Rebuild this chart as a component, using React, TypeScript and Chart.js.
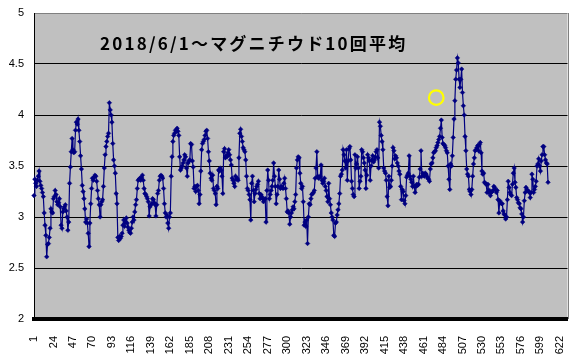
import React, { useEffect, useRef } from 'react';
import { Chart, registerables } from 'chart.js';

Chart.register(...registerables);

// ---- data ----
const TITLE = '2018/6/1～マグニチウド10回平均';

const CATEGORY_COUNT = 631;
const CATEGORIES: string[] = Array.from({ length: CATEGORY_COUNT }, (_, i) => String(i + 1));

const TICK_LABELS: string[] = [
  '1', '24', '47', '70', '93', '116', '139', '162', '185', '208', '231', '254', '277', '300',
  '323', '346', '369', '392', '415', '438', '461', '484', '507', '530', '553', '576', '599', '622',
];

const Y_TICKS: number[] = [2, 2.5, 3, 3.5, 4, 4.5, 5];

const MAGNITUDE_AVG: number[] = [
  3.21, 3.37, 3.33, 3.30, 3.36, 3.40, 3.45, 3.35, 3.31, 3.28,
  3.24, 3.20, 3.04, 2.92, 2.82, 2.61, 2.73, 2.74, 2.80, 2.89,
  3.08, 3.05, 3.04, 3.18, 3.20, 3.26, 3.22, 3.15, 3.12, 3.14,
  3.18, 3.10, 2.92, 2.89, 3.05, 3.08, 3.10, 3.12, 3.06, 3.00,
  2.87, 2.95, 3.33, 3.49, 3.64, 3.77, 3.66, 3.63, 3.64, 3.85,
  3.93, 3.91, 3.96, 3.85, 3.74, 3.60, 3.47, 3.31, 3.25, 3.18,
  3.08, 2.95, 2.98, 2.94, 2.84, 2.71, 2.94, 3.13, 3.28, 3.38,
  3.36, 3.39, 3.41, 3.40, 3.35, 3.26, 3.18, 3.12, 3.00, 3.12,
  3.15, 3.17, 3.30, 3.48, 3.61, 3.69, 3.74, 3.79, 3.82, 4.12,
  4.05, 4.00, 3.93, 3.72, 3.56, 3.50, 3.43, 3.23, 3.13, 2.80,
  2.77, 2.81, 2.79, 2.81, 2.84, 2.92, 2.97, 2.91, 2.95, 2.99,
  2.94, 2.90, 2.87, 2.85, 2.84, 2.89, 2.95, 3.00, 2.97, 3.05,
  3.12, 3.17, 3.28, 3.36, 3.37, 3.38, 3.36, 3.39, 3.41, 3.36,
  3.28, 3.23, 3.22, 3.20, 3.18, 3.15, 3.01, 3.10, 3.12, 3.13,
  3.18, 3.17, 3.14, 3.12, 3.01, 3.12, 3.23, 3.26, 3.36, 3.40,
  3.41, 3.40, 3.38, 3.28, 3.13, 3.04, 3.00, 3.02, 2.94, 2.89,
  3.00, 3.04, 3.40, 3.59, 3.74, 3.80, 3.82, 3.85, 3.84, 3.87,
  3.84, 3.80, 3.59, 3.46, 3.48, 3.50, 3.53, 3.56, 3.61, 3.59,
  3.48, 3.40, 3.53, 3.55, 3.56, 3.72, 3.71, 3.55, 3.49, 3.28,
  3.30, 3.25, 3.30, 3.31, 3.26, 3.13, 3.22, 3.45, 3.66, 3.72,
  3.74, 3.76, 3.80, 3.84, 3.85, 3.77, 3.64, 3.55, 3.43, 3.38,
  3.36, 3.41, 3.28, 3.26, 3.23, 3.12, 3.30, 3.28, 3.46, 3.45,
  3.48, 3.46, 3.40, 3.23, 3.64, 3.67, 3.58, 3.60, 3.59, 3.63,
  3.66, 3.61, 3.56, 3.51, 3.38, 3.36, 3.33, 3.30, 3.40, 3.37,
  3.38, 3.36, 3.58, 3.82, 3.86, 3.79, 3.74, 3.68, 3.66, 3.64,
  3.56, 3.40, 3.28, 3.26, 3.22, 3.17, 2.97, 3.33, 3.40, 3.26,
  3.15, 3.23, 3.27, 3.30, 3.32, 3.35, 3.23, 3.18, 3.22, 3.20,
  3.18, 3.15, 3.17, 3.18, 2.95, 3.26, 3.46, 3.36, 3.18, 3.22,
  3.26, 3.30, 3.36, 3.53, 3.40, 3.30, 3.13, 3.22, 3.30, 3.46,
  3.37, 3.28, 3.30, 3.29, 3.28, 3.33, 3.38, 3.28, 3.18, 3.05,
  3.06, 3.04, 2.93, 3.00, 3.04, 3.07, 3.10, 3.08, 3.15, 3.22,
  3.48, 3.56, 3.59, 3.58, 3.43, 3.33, 3.28, 3.30, 3.15, 2.92,
  2.95, 2.91, 2.97, 2.74, 3.00, 3.13, 3.12, 3.18, 3.22, 3.23,
  3.24, 3.26, 3.38, 3.48, 3.64, 3.40, 3.38, 3.39, 3.40, 3.51,
  3.36, 3.33, 3.35, 3.38, 3.30, 3.26, 3.20, 3.15, 3.33, 3.18,
  3.12, 3.04, 3.00, 2.97, 2.82, 2.81, 2.94, 2.95, 3.02, 3.07,
  3.13, 3.23, 3.40, 3.42, 3.46, 3.66, 3.61, 3.55, 3.48, 3.66,
  3.36, 3.55, 3.67, 3.69, 3.56, 3.35, 3.28, 3.22, 3.20, 3.61,
  3.48, 3.52, 3.59, 3.48, 3.28, 3.35, 3.40, 3.66, 3.64, 3.58,
  3.53, 3.46, 3.28, 3.41, 3.61, 3.58, 3.55, 3.36, 3.50, 3.56,
  3.60, 3.54, 3.56, 3.59, 3.64, 3.66, 3.58, 3.48, 3.93, 3.89,
  3.80, 3.74, 3.66, 3.48, 3.45, 3.43, 3.36, 3.20, 3.11, 3.40,
  3.29, 3.30, 3.36, 3.50, 3.68, 3.65, 3.57, 3.60, 3.58, 3.53,
  3.50, 3.45, 3.42, 3.30, 3.17, 3.27, 3.25, 3.16, 3.13, 3.21,
  3.39, 3.41, 3.43, 3.60, 3.40, 3.37, 3.34, 3.30, 3.40, 3.30,
  3.24, 3.30, 3.32, 3.31, 3.32, 3.39, 3.47, 3.65, 3.40, 3.43,
  3.41, 3.40, 3.43, 3.42, 3.40, 3.38, 3.37, 3.35, 3.47, 3.52,
  3.53, 3.58, 3.63, 3.64, 3.65, 3.68, 3.70, 3.73, 3.76, 3.79,
  3.87, 3.95, 3.78, 3.72, 3.71, 3.70, 3.68, 3.65, 3.63, 3.50,
  3.37, 3.27, 3.52, 3.50, 3.60, 3.78, 3.96, 4.14, 4.35, 4.44,
  4.56, 4.51, 4.35, 4.27, 4.35, 4.45, 4.22, 4.09, 4.00, 3.79,
  3.65, 3.47, 3.42, 3.40, 3.27, 3.25, 3.22, 3.27, 3.40, 3.52,
  3.58, 3.65, 3.66, 3.68, 3.70, 3.65, 3.71, 3.73, 3.63, 3.45,
  3.42, 3.43, 3.34, 3.33, 3.32, 3.24, 3.32, 3.24, 3.26, 3.21,
  3.24, 3.25, 3.26, 3.30, 3.29, 3.27, 3.24, 3.26, 3.17, 3.04,
  3.16, 3.14, 3.13, 3.13, 3.06, 3.03, 3.02, 2.98, 3.00, 3.17,
  3.35, 3.29, 3.24, 3.22, 3.21, 3.32, 3.43, 3.48, 3.34, 3.29,
  3.19, 3.17, 3.14, 3.13, 3.09, 3.08, 3.03, 2.95, 3.00, 3.16,
  3.24, 3.29, 3.27, 3.26, 3.25, 3.24, 3.19, 3.24, 3.42, 3.37,
  3.24, 3.27, 3.30, 3.35, 3.50, 3.52, 3.57, 3.50, 3.45, 3.55,
  3.61, 3.69, 3.69, 3.61, 3.56, 3.53, 3.52, 3.34,
];

// highlighted point (yellow ring)
const HIGHLIGHT_INDEX = 475;
const HIGHLIGHT_VALUE = 4.17;

const NAVY = '#000080';
const PLOT_BG = '#C0C0C0';
const AXIS_FONT = '"Liberation Sans", Arial, sans-serif';

const plotDecor = {
  id: 'plotDecor',
  beforeDraw(chart: any) {
    const { ctx, chartArea: a } = chart;
    ctx.save();
    ctx.fillStyle = '#FFFFFF';
    ctx.fillRect(0, 0, chart.width, chart.height);
    ctx.fillStyle = PLOT_BG;
    ctx.fillRect(a.left, a.top, a.right - a.left, a.bottom - a.top);
    ctx.restore();
  },
  beforeDatasetsDraw(chart: any) {
    const { ctx, chartArea: a } = chart;
    ctx.save();
    ctx.strokeStyle = '#808080';
    ctx.lineWidth = 1;
    ctx.beginPath();
    ctx.moveTo(Math.round(a.right) + 0.5, a.top);
    ctx.lineTo(Math.round(a.right) + 0.5, a.bottom);
    ctx.stroke();
    ctx.restore();
  },
  afterDraw(chart: any) {
    const { ctx, chartArea: a } = chart;
    ctx.save();
    ctx.fillStyle = '#000000';
    ctx.font = 'bold 17px "Noto Sans CJK JP", sans-serif';
    (ctx as any).letterSpacing = '2.2px';
    ctx.textBaseline = 'alphabetic';
    ctx.textAlign = 'left';
    ctx.fillText(TITLE, a.left + 66, a.top + 37);
    ctx.restore();
  },
};

export default function App() {
  const canvasRef = useRef<HTMLCanvasElement | null>(null);

  useEffect(() => {
    document.body.style.margin = '0';
    const canvas = canvasRef.current;
    if (!canvas) return;

    const highlight = CATEGORIES.map((_, i) => (i === HIGHLIGHT_INDEX ? HIGHLIGHT_VALUE : null));

    const chart = new Chart(canvas, {
      type: 'line',
      data: {
        labels: CATEGORIES,
        datasets: [
          {
            label: 'highlight',
            data: highlight,
            showLine: false,
            pointStyle: 'circle',
            pointRadius: 7.3,
            pointBorderWidth: 2.2,
            pointBorderColor: '#FFFF00',
            pointBackgroundColor: 'rgba(0,0,0,0)',
            borderColor: '#FFFF00',
          },
          {
            label: 'mag',
            data: MAGNITUDE_AVG,
            borderColor: NAVY,
            borderWidth: 1.2,
            tension: 0,
            pointStyle: 'rectRot',
            pointRadius: 2.3,
            pointBorderWidth: 0.5,
            pointBorderColor: NAVY,
            pointBackgroundColor: NAVY,
          },
        ],
      },
      options: {
        responsive: false,
        animation: false,
        devicePixelRatio: 1,
        layout: { padding: { top: 13, right: 6, left: 0, bottom: 0 } },
        plugins: {
          legend: { display: false },
          tooltip: { enabled: false },
          title: { display: false },
        },
        scales: {
          x: {
            type: 'category',
            offset: false,
            grid: { display: false },
            border: { display: true, color: '#000000', width: 4 },
            ticks: {
              autoSkip: false,
              minRotation: 90,
              maxRotation: 90,
              padding: 9,
              color: '#000000',
              font: { family: AXIS_FONT, size: 11 },
              callback: (_v: any, i: number) =>
                TICK_LABELS.includes(CATEGORIES[i]) ? CATEGORIES[i] : '',
            },
            afterFit: (scale: any) => {
              scale.height = 36;
              scale.paddingLeft = 0;
              scale.paddingRight = 0;
            },
          },
          y: {
            min: Y_TICKS[0],
            max: Y_TICKS[Y_TICKS.length - 1],
            grid: {
              drawTicks: false,
              lineWidth: 1,
              color: (ctx: any) => (ctx.tick && ctx.tick.value === 5 ? '#808080' : '#000000'),
            },
            border: { display: true, color: '#000000', width: 1 },
            afterBuildTicks: (scale: any) => {
              scale.ticks = Y_TICKS.map((v) => ({ value: v }));
            },
            ticks: {
              padding: 10,
              color: '#000000',
              font: { family: AXIS_FONT, size: 11 },
              callback: (v: any) => String(v),
            },
            afterFit: (scale: any) => {
              scale.width = 34;
              scale.paddingTop = 0;
              scale.paddingBottom = 0;
            },
          },
        },
      },
      plugins: [plotDecor],
    });

    return () => chart.destroy();
  }, []);

  return (
    <div style={{ width: 577, height: 355 }}>
      <canvas ref={canvasRef} width={577} height={355} style={{ display: 'block' }} />
    </div>
  );
}
